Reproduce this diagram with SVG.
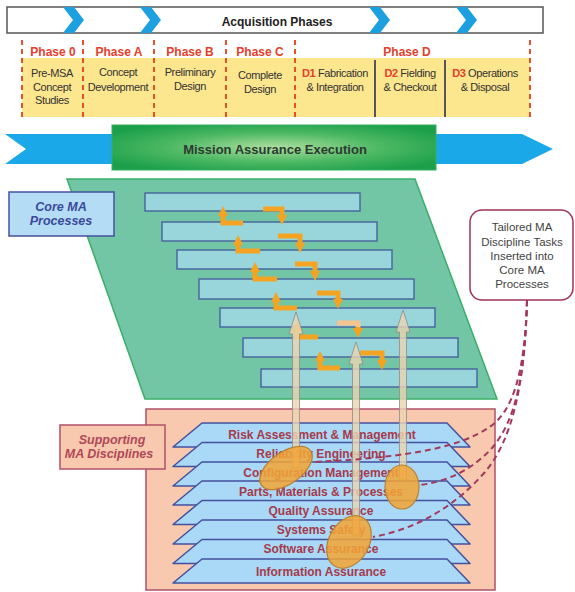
<svg xmlns="http://www.w3.org/2000/svg" width="575" height="592" viewBox="0 0 575 592">
  <style>
    .t { font-family: "Liberation Sans", Arial, sans-serif; }
    .ph { font-size: 12px; font-weight: bold; fill: #e4402c; text-anchor: middle; }
    .pd { font-size: 11px; fill: #333333; text-anchor: middle; letter-spacing: -0.4px; }
    .pdr { fill: #e4402c; font-weight: bold; }
    .vdash { stroke: #e4502e; stroke-width: 2; stroke-dasharray: 5 4; fill: none; }
    .bar { fill: #98d6db; stroke: #4a6a9e; stroke-width: 1.5; }
    .oarr { fill: none; stroke: #f5a323; stroke-width: 5; marker-end: url(#oh); }
    .layer { fill: #a9d9f6; stroke: #4350a0; stroke-width: 1.5; stroke-linejoin: round; }
    .lt { font-size: 12px; font-weight: bold; fill: #a63a4c; text-anchor: middle; }
    .tan { fill: #ecd4b0; fill-opacity: 0.8; stroke: #8c8c8c; stroke-width: 0.8; }
    .ell { fill: #f3a534; fill-opacity: 0.85; stroke: #b98032; stroke-width: 1.2; }
    .dl { fill: none; stroke: #a3385a; stroke-width: 2; stroke-dasharray: 6 4; }
    .chev { fill: #1ca0e0; }
  </style>
  <defs>
    <marker id="oh" viewBox="0 0 10 10" refX="4" refY="5" markerWidth="10" markerHeight="10" orient="auto" markerUnits="userSpaceOnUse">
      <path d="M0,0 L10,5 L0,10 z" fill="#f5a323"/>
    </marker>
    <radialGradient id="mag" cx="0.5" cy="0.5" r="0.6">
      <stop offset="0" stop-color="#addf9f"/>
      <stop offset="0.55" stop-color="#4cb863"/>
      <stop offset="1" stop-color="#1c9f4a"/>
    </radialGradient>
    <path id="chev" d="M0,0 h11 l10,13 l-10,13 h-11 l10,-13 z"/>
  </defs>

  <!-- Acquisition phases banner -->
  <g id="acq-bar">
    <rect x="7" y="7" width="536" height="26" fill="#ffffff" stroke="#555555" stroke-width="1.5"/>
    <use href="#chev" class="chev" x="63" y="7"/>
    <use href="#chev" class="chev" x="140" y="7"/>
    <use href="#chev" class="chev" x="369" y="7"/>
    <use href="#chev" class="chev" x="456" y="7"/>
    <text class="t" x="277" y="26" font-size="12" font-weight="bold" fill="#222" text-anchor="middle">Acquisition Phases</text>
  </g>

  <!-- Phase table -->
  <g id="phases">
    <rect x="22" y="58" width="508" height="59" fill="#fce68e"/>
    <line x1="375" y1="60" x2="375" y2="117" stroke="#555" stroke-width="2"/>
    <line x1="445" y1="60" x2="445" y2="117" stroke="#555" stroke-width="2"/>
    <line class="vdash" x1="22" y1="40" x2="22" y2="117"/>
    <line class="vdash" x1="83" y1="40" x2="83" y2="117"/>
    <line class="vdash" x1="154" y1="40" x2="154" y2="117"/>
    <line class="vdash" x1="226" y1="40" x2="226" y2="117"/>
    <line class="vdash" x1="295" y1="40" x2="295" y2="117"/>
    <line class="vdash" x1="530" y1="40" x2="530" y2="117"/>
    <g class="t">
      <text class="ph" x="53" y="56">Phase 0</text>
      <text class="ph" x="119" y="56">Phase A</text>
      <text class="ph" x="190" y="56">Phase B</text>
      <text class="ph" x="260" y="56">Phase C</text>
      <text class="ph" x="407" y="56">Phase D</text>
      <text class="pd" x="52" y="77">Pre-MSA</text>
      <text class="pd" x="52" y="91">Concept</text>
      <text class="pd" x="52" y="104">Studies</text>
      <text class="pd" x="118" y="76">Concept</text>
      <text class="pd" x="118" y="91">Development</text>
      <text class="pd" x="190" y="76">Preliminary</text>
      <text class="pd" x="190" y="90">Design</text>
      <text class="pd" x="260" y="79">Complete</text>
      <text class="pd" x="260" y="93">Design</text>
      <text class="pd" x="335" y="77"><tspan class="pdr">D1</tspan> Fabrication</text>
      <text class="pd" x="335" y="91">&amp; Integration</text>
      <text class="pd" x="410" y="77"><tspan class="pdr">D2</tspan> Fielding</text>
      <text class="pd" x="410" y="91">&amp; Checkout</text>
      <text class="pd" x="485" y="77"><tspan class="pdr">D3</tspan> Operations</text>
      <text class="pd" x="485" y="91">&amp; Disposal</text>
    </g>
  </g>

  <!-- Mission assurance execution band -->
  <g id="execution">
    <polygon points="5,134 522,134 553,149 522,164 5,164 26,149" fill="#1aa8e8"/>
    <rect x="112" y="125" width="324" height="45" fill="url(#mag)" stroke="#35b060" stroke-width="1"/>
    <text class="t" x="275" y="154" font-size="13" font-weight="bold" fill="#2c3a30" text-anchor="middle">Mission Assurance Execution</text>
  </g>

  <!-- Core MA processes -->
  <g id="core-processes">
    <polygon points="67,179 415,179 497,399 145,399" fill="#72c5a5" stroke="#3aae6a" stroke-width="1.5"/>
    <rect class="bar" x="145" y="193" width="215" height="18"/>
    <rect class="bar" x="162" y="222" width="215" height="19"/>
    <rect class="bar" x="177" y="250" width="215" height="19"/>
    <rect class="bar" x="199" y="279" width="215" height="20"/>
    <rect class="bar" x="220" y="308" width="215" height="19"/>
    <rect class="bar" x="243" y="338" width="215" height="19"/>
    <rect class="bar" x="261" y="369" width="216" height="18"/>
  </g>

  <g id="core-label">
    <rect x="9" y="192" width="105" height="44" fill="#b4dcf4" stroke="#45519c" stroke-width="1.5"/>
    <text class="t" x="61" y="211" font-size="12.5" font-weight="bold" font-style="italic" fill="#3a4a9c" text-anchor="middle">Core MA</text>
    <text class="t" x="61" y="225" font-size="12.5" font-weight="bold" font-style="italic" fill="#3a4a9c" text-anchor="middle">Processes</text>
  </g>

  <!-- Process flow steps -->
  <g id="flow">
    <path class="oarr" d="M243,223 H223 V212"/>
    <path class="oarr" d="M260,251 H238 V241"/>
    <path class="oarr" d="M277,279 H255 V268"/>
    <path class="oarr" d="M297,308 H276 V298"/>
    <path class="oarr" d="M318,337 H297 V327"/>
    <path class="oarr" d="M340,368 H320 V357"/>
    <path class="oarr" d="M263,209 H282 V219"/>
    <path class="oarr" d="M278,236 H300 V247"/>
    <path class="oarr" d="M295,264 H315 V275"/>
    <path class="oarr" d="M317,293 H338 V303"/>
    <path d="M337,323 H358 V327" fill="none" stroke="#f7c48e" stroke-width="5"/>
    <path class="oarr" d="M358,327 V332"/>
    <path class="oarr" d="M360,353 H382 V364"/>
  </g>

  <!-- Supporting MA disciplines -->
  <g id="disciplines">
    <rect x="146" y="409" width="349" height="181" fill="#f8c9ae" stroke="#b0506a" stroke-width="1.5"/>
    <polygon class="layer" points="202,423 447,423 470,447 173,447"/>
    <polygon class="layer" points="202,442.5 447,442.5 470,466.5 173,466.5"/>
    <polygon class="layer" points="202,462 447,462 470,486 173,486"/>
    <polygon class="layer" points="202,481 447,481 470,505 173,505"/>
    <polygon class="layer" points="202,500.5 447,500.5 470,524.5 173,524.5"/>
    <polygon class="layer" points="202,520 447,520 470,544 173,544"/>
    <polygon class="layer" points="202,539.5 447,539.5 470,563.5 173,563.5"/>
    <polygon class="layer" points="202,559 447,559 470,583 173,583"/>
    <g class="t">
      <text class="lt" x="322" y="439">Risk Assessment &amp; Management</text>
      <text class="lt" x="321" y="458">Reliability Engineering</text>
      <text class="lt" x="321" y="477">Configuration Management</text>
      <text class="lt" x="321" y="496">Parts, Materials &amp; Processes</text>
      <text class="lt" x="321" y="515">Quality Assurance</text>
      <text class="lt" x="321" y="534">Systems Safety</text>
      <text class="lt" x="321" y="553">Software Assurance</text>
      <text class="lt" x="321" y="576">Information Assurance</text>
    </g>
  </g>

  <g id="support-label">
    <rect x="60" y="425" width="105" height="44" fill="#f8c9ae" stroke="#b0506a" stroke-width="1.5"/>
    <text class="t" x="112" y="444" font-size="12.5" font-weight="bold" font-style="italic" fill="#b04858" text-anchor="middle">Supporting</text>
    <text class="t" x="109" y="458" font-size="12.5" font-weight="bold" font-style="italic" fill="#b04858" text-anchor="middle">MA Disciplines</text>
  </g>

  <!-- Discipline tasks lifted into the core processes -->
  <g id="insertions">
    <polygon class="tan" points="296,312 303,334 299.5,334 299.5,468 292.5,468 292.5,334 289,334"/>
    <polygon class="tan" points="356,342 363,364 359.5,364 359.5,535 352.5,535 352.5,364 349,364"/>
    <polygon class="tan" points="403,310 410,332 406.5,332 406.5,480 399.5,480 399.5,332 396,332"/>
    <ellipse class="ell" cx="286" cy="468" rx="30" ry="16" transform="rotate(-35 286 468)"/>
    <ellipse class="ell" cx="402" cy="487" rx="17" ry="22"/>
    <ellipse class="ell" cx="349" cy="542" rx="20" ry="28" transform="rotate(30 349 542)"/>
  </g>

  <!-- Callout leaders -->
  <g id="connectors">
    <path class="dl" d="M527,300 C525,370 514,412 488,428 C462,445 420,457 313,462"/>
    <path class="dl" d="M527,300 C525,375 516,420 492,448 C470,472 444,482 420,485"/>
    <path class="dl" d="M527,300 C525,385 512,440 485,472 C456,505 420,528 373,537"/>
  </g>

  <g id="callout">
    <rect x="470" y="210" width="103" height="90" rx="12" ry="12" fill="#ffffff" stroke="#9c3456" stroke-width="1.5"/>
    <g class="t" font-size="11.5" fill="#444444" text-anchor="middle">
      <text x="522" y="231">Tailored MA</text>
      <text x="522" y="246">Discipline Tasks</text>
      <text x="522" y="260">Inserted into</text>
      <text x="522" y="274">Core MA</text>
      <text x="522" y="288">Processes</text>
    </g>
  </g>
</svg>
